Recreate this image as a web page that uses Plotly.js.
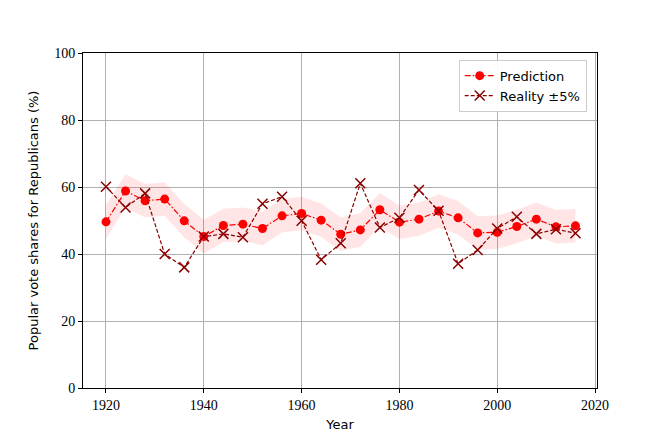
<!DOCTYPE html>
<html>
<head>
<meta charset="utf-8">
<script src="https://cdn.plot.ly/plotly-3.0.1.min.js"></script>
<style>
  html, body { margin: 0; padding: 0; background: #fff; }
  #chart { width: 664px; height: 443px; }
</style>
</head>
<body>
<div id="chart"></div>
<script>
const years = [1920, 1924, 1928, 1932, 1936, 1940, 1944, 1948, 1952, 1956, 1960, 1964, 1968,
               1972, 1976, 1980, 1984, 1988, 1992, 1996, 2000, 2004, 2008, 2012, 2016];

const prediction = [49.6, 58.8, 55.9, 56.4, 49.9, 45.2, 48.5, 48.9, 47.6, 51.4, 52.1, 50.1, 45.9,
                    47.2, 53.2, 49.5, 50.4, 52.8, 50.8, 46.3, 46.5, 48.2, 50.4, 48.1, 48.4];

const reality = [60.1, 53.9, 58.1, 40.0, 36.0, 45.2, 46.0, 45.0, 55.0, 57.1, 49.9, 38.3, 43.2,
                 61.1, 47.9, 50.8, 59.1, 52.9, 37.1, 41.2, 47.6, 51.1, 46.0, 47.4, 46.2];

const margin = 5;
const upper = prediction.map(v => v + margin);
const lower = prediction.map(v => v - margin);

const bandColor = 'rgba(255,0,0,0.1)';

const traces = [
  {
    x: years, y: lower, type: 'scatter', mode: 'lines',
    line: {width: 0}, showlegend: false, hoverinfo: 'skip'
  },
  {
    x: years, y: upper, type: 'scatter', mode: 'lines',
    fill: 'tonexty', fillcolor: bandColor,
    line: {width: 0}, showlegend: false, hoverinfo: 'skip'
  },
  {
    x: years, y: prediction, type: 'scatter', mode: 'lines+markers',
    name: 'Prediction',
    line: {color: '#ff0000', width: 1.2, dash: '6px,2px,1.5px,2px'},
    marker: {color: '#ff0000', size: 9, symbol: 'circle'}
  },
  {
    x: years, y: reality, type: 'scatter', mode: 'lines+markers',
    name: 'Reality \u00b15%',
    line: {color: '#8b0000', width: 1.2, dash: '4px,2px'},
    marker: {color: '#8b0000', size: 10, symbol: 'x-thin-open', line: {color: '#8b0000', width: 1.5}}
  }
];

const tickFont = {family: 'Liberation Serif, serif', size: 14, color: '#000'};
const titleFont = {family: 'DejaVu Sans, sans-serif', size: 13, color: '#000'};

const layout = {
  width: 664, height: 443,
  margin: {l: 83, r: 67, t: 53, b: 55},
  paper_bgcolor: '#fff', plot_bgcolor: '#fff',
  showlegend: true,
  legend: {
    x: 0.98, y: 0.98, xanchor: 'right', yanchor: 'top',
    traceorder: 'normal',
    bgcolor: 'rgba(255,255,255,0.9)', bordercolor: '#cccccc', borderwidth: 1,
    font: {family: 'DejaVu Sans, sans-serif', size: 13, color: '#000'}
  },
  xaxis: {
    range: [1915.3, 2020.4],
    tickvals: [1920, 1940, 1960, 1980, 2000, 2020],
    showgrid: true, gridcolor: '#b0b0b0', gridwidth: 1,
    zeroline: false,
    showline: true, linecolor: '#000', linewidth: 1, mirror: true,
    ticks: 'outside', ticklen: 4, tickcolor: '#000',
    tickfont: tickFont,
    title: {text: 'Year', font: titleFont, standoff: 8}
  },
  yaxis: {
    range: [0, 100],
    tickvals: [0, 20, 40, 60, 80, 100],
    showgrid: true, gridcolor: '#b0b0b0', gridwidth: 1,
    zeroline: false,
    showline: true, linecolor: '#000', linewidth: 1, mirror: true,
    ticks: 'outside', ticklen: 4, tickcolor: '#000',
    tickfont: tickFont,
    title: {text: 'Popular vote shares for Republicans (%)', font: titleFont, standoff: 12}
  }
};

Plotly.newPlot('chart', traces, layout, {displayModeBar: false, responsive: false});
</script>
</body>
</html>
